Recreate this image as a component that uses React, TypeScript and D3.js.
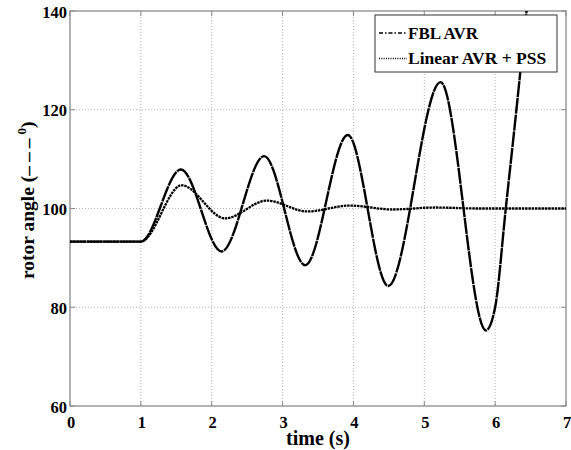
import React from "react";
import * as d3 from "d3";

const fblTime = [0, 1.0, 1.565, 2.14, 2.74, 3.32, 3.92, 4.49, 5.23, 5.87, 6.0, 6.15, 6.3, 6.45, 6.55];
const fblAngle = [93.3, 93.3, 107.9, 91.3, 110.6, 88.5, 114.9, 84.3, 125.6, 75.3, 80, 100, 120, 141, 155];

const pssTime = [0, 1.0, 1.575, 2.19, 2.78, 3.35, 3.95, 4.55, 5.15, 5.75, 7];
const pssAngle = [93.3, 93.3, 104.7, 98.0, 101.6, 99.4, 100.6, 99.8, 100.2, 100.0, 100.0];

const xTicks = [0, 1, 2, 3, 4, 5, 6, 7];
const yTicks = [60, 80, 100, 120, 140];
const legendLabels = ["FBL AVR", "Linear AVR + PSS"];

const W = 571;
const H = 450;
const M = { left: 70, right: 566, top: 11, bottom: 406 };
const FONT = "'Liberation Serif', 'Times New Roman', serif";

export default function App() {
  const x = d3.scaleLinear().domain([0, 7]).range([M.left, M.right]);
  const y = d3.scaleLinear().domain([60, 140]).range([M.bottom, M.top]);

  const line = d3
    .line<[number, number]>()
    .x((d) => x(d[0]))
    .y((d) => y(d[1]))
    .curve(d3.curveMonotoneX);

  const fblPath = line(fblTime.map((t, i) => [t, fblAngle[i]] as [number, number])) || "";
  const pssPath = line(pssTime.map((t, i) => [t, pssAngle[i]] as [number, number])) || "";

  const frame = "#8a8a8a";
  const grid = "#b4b4b4";

  return (
    <svg
      width={W}
      height={H}
      style={{ position: "absolute", left: 0, top: 0, background: "#fff" }}
      fontFamily={FONT}
      fontWeight="bold"
    >
      <defs>
        <clipPath id="plotclip">
          <rect x={M.left} y={M.top} width={M.right - M.left} height={M.bottom - M.top} />
        </clipPath>
      </defs>
      <rect x={0} y={0} width={W} height={H} fill="#fff" />

      {/* grid */}
      {xTicks.slice(1, -1).map((t) => (
        <line
          key={"gx" + t}
          x1={x(t)}
          x2={x(t)}
          y1={M.top}
          y2={M.bottom}
          stroke={grid}
          strokeWidth={1}
          strokeDasharray="1,2"
        />
      ))}
      {yTicks.slice(1, -1).map((v) => (
        <line
          key={"gy" + v}
          x1={M.left}
          x2={M.right}
          y1={y(v)}
          y2={y(v)}
          stroke={grid}
          strokeWidth={1}
          strokeDasharray="1,2"
        />
      ))}

      {/* frame */}
      <rect
        x={M.left}
        y={M.top}
        width={M.right - M.left}
        height={M.bottom - M.top}
        fill="none"
        stroke={frame}
        strokeWidth={1.3}
      />

      {/* ticks */}
      {xTicks.map((t) => (
        <g key={"tx" + t}>
          <line x1={x(t)} x2={x(t)} y1={M.bottom} y2={M.bottom - 5} stroke={frame} />
          <line x1={x(t)} x2={x(t)} y1={M.top} y2={M.top + 5} stroke={frame} />
          <text x={x(t) + 1} y={428} textAnchor="middle" fontSize={16.5} fill="#000">
            {t}
          </text>
        </g>
      ))}
      {yTicks.map((v) => (
        <g key={"ty" + v}>
          <line x1={M.left} x2={M.left + 5} y1={y(v)} y2={y(v)} stroke={frame} />
          <line x1={M.right} x2={M.right - 5} y1={y(v)} y2={y(v)} stroke={frame} />
          <text x={67} y={y(v) + 6.5} textAnchor="end" fontSize={16.5} fill="#000">
            {v}
          </text>
        </g>
      ))}

      {/* curves */}
      <g clipPath="url(#plotclip)">
        <path d={pssPath} fill="none" stroke="#000" strokeWidth={2.3} strokeDasharray="2.5,0.8" />
        <path d={fblPath} fill="none" stroke="#000" strokeWidth={2.4} strokeDasharray="16,0.8" />
      </g>

      {/* axis labels */}
      <text x={(M.left + M.right) / 2} y={445} textAnchor="middle" fontSize={20} fill="#000">
        time (s)
      </text>
      <text transform="translate(34,279) rotate(-90)" fontSize={19.5} fill="#000" textAnchor="start">
        rotor angle (
        <tspan letterSpacing={4}>–––</tspan>
        <tspan fontSize={13} dy={-8}>0</tspan>
        <tspan dy={8}>)</tspan>
      </text>

      {/* legend */}
      <rect x={375} y={15} width={182} height={57} fill="#fff" stroke="#333" strokeWidth={1} />
      <line x1={379} x2={407} y1={33} y2={33} stroke="#000" strokeWidth={1.5} strokeDasharray="4,2,1.5,2" />
      <line x1={379} x2={407} y1={58.5} y2={58.5} stroke="#000" strokeWidth={1.5} strokeDasharray="1,1.3" />
      <text x={408} y={38.5} fontSize={17} fill="#000">
        {legendLabels[0]}
      </text>
      <text x={408} y={64} fontSize={17.5} fill="#000">
        {legendLabels[1]}
      </text>
    </svg>
  );
}
